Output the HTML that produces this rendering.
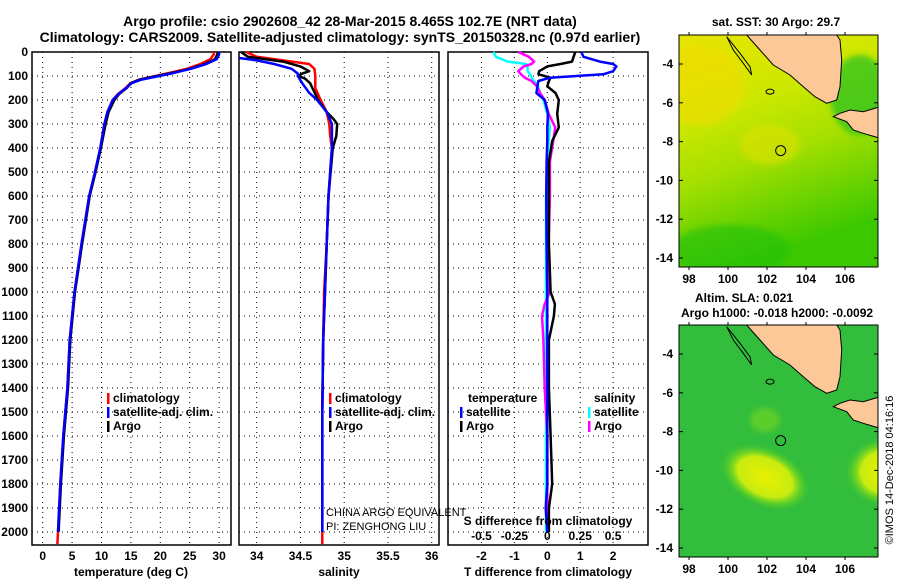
<!DOCTYPE html>
<html><head><meta charset="utf-8"><style>
body{margin:0;background:#fff;}
svg text{font-family:"Liberation Sans",sans-serif;}
.b{font-weight:bold;}
</style></head><body>
<svg id="fig" width="900" height="580" viewBox="0 0 900 580" xmlns="http://www.w3.org/2000/svg">
<defs>
<linearGradient id="sstg" x1="0" y1="0" x2="0.3" y2="1">
<stop offset="0" stop-color="#e8e400"/><stop offset="0.35" stop-color="#cde800"/><stop offset="0.6" stop-color="#a6e000"/><stop offset="1" stop-color="#3cc800"/></linearGradient>
<radialGradient id="blob1"><stop offset="0" stop-color="#e8f000"/><stop offset="0.6" stop-color="#c8ec10"/><stop offset="1" stop-color="#40cc20" stop-opacity="0"/></radialGradient>
<filter id="blur"><feGaussianBlur stdDeviation="3"/></filter>
</defs>
<text class="b" x="350" y="26" font-size="14" text-anchor="middle">Argo profile: csio 2902608_42 28-Mar-2015 8.465S 102.7E (NRT data)</text>
<text class="b" x="340" y="42" font-size="14" text-anchor="middle">Climatology: CARS2009. Satellite-adjusted climatology: synTS_20150328.nc (0.97d earlier)</text>
<g id="panels"></g>
<g id="maps"></g>
<text x="893" y="470" font-size="11" text-anchor="middle" transform="rotate(-90 893 470)">©IMOS 14-Dec-2018 04:16:16</text>
</svg>
<script>
// ---- data ----
const depthTicks=[0,100,200,300,400,500,600,700,800,900,1000,1100,1200,1300,1400,1500,1600,1700,1800,1900,2000];
const tempTicks=[0,5,10,15,20,25,30];
const salTicks=[34,34.5,35,35.5,36];
const salTickLabels=["34","34.5","35","35.5","36"];
const tdTicks=[-2,-1,0,1,2];
const sdTicks=[-0.5,-0.25,0,0.25,0.5];
const sdTickLabels=["-0.5","-0.25","0","0.25","0.5"];

const tArgoDepth=[0,10,30,50,70,80,90,100,115,130,150,175,200,250,300,400,500,600,800,1000,1200,1400,1600,1800,2000];
const tArgo=[29.8,29.7,29.3,27.6,25,23.3,21.5,19.4,16.5,15,14.3,13,12.2,11.2,10.7,9.9,9,8,6.7,5.5,4.7,4.3,3.6,3.1,2.7];
const tClimDepth=[0,10,30,50,70,80,90,100,115,130,150,175,200,250,300,400,500,600,800,1000,1200,1400,1600,1800,2000,2050];
const tClim=[29.1,29.1,28.5,26.8,24.5,22.8,21,19.2,16.4,14.9,14.1,12.8,11.9,11,10.5,9.8,8.9,7.9,6.6,5.4,4.6,4.2,3.5,3.0,2.6,2.5];
const tSatDepth=[0,10,30,50,70,80,90,100,115,130,150,175,200,250,300,400,500,600,800,1000,1200,1400,1600,1800,2000];
const tSat=[30,30,29.6,27.8,25.2,23.5,21.8,19.8,16.8,15.1,14.2,12.9,11.9,11,10.5,9.8,8.9,7.9,6.6,5.4,4.6,4.2,3.5,3.0,2.6];

const sArgoDepth=[0,20,40,60,80,90,100,110,130,160,200,250,280,300,350,400,600,800,1000,1200,1500,2000];
const sArgo=[33.82,33.9,34.3,34.5,34.6,34.52,34.47,34.55,34.61,34.65,34.7,34.8,34.88,34.92,34.91,34.87,34.82,34.8,34.78,34.76,34.75,34.75];
const sClimDepth=[0,20,35,50,70,100,150,200,250,300,350,400,600,800,1000,1200,1500,2000,2050];
const sClim=[33.88,34.0,34.3,34.6,34.66,34.67,34.67,34.73,34.8,34.83,34.84,34.86,34.82,34.8,34.77,34.76,34.75,34.75,34.75];
const sSatDepth=[25,35,50,70,90,100,130,170,200,250,300,400,600,800,1000,1200,1500,2000];
const sSat=[33.8,34.0,34.2,34.4,34.47,34.47,34.52,34.6,34.69,34.8,34.86,34.86,34.82,34.8,34.78,34.76,34.75,34.75];

const dDepth=[0,20,40,50,60,80,93,107,121,143,171,200,257,314,371,457,600,800,1000,1050,1100,1200,1400,1600,1800,1900,2000];
const tDiffSat=[1.03,1.1,1.6,2.0,2.1,2.0,1.7,0.08,-0.27,-0.3,-0.33,-0.08,0.02,0.0,0.0,-0.02,-0.03,-0.02,0,0,0,0,0,0,0,-0.05,0];
const tDiffArgo=[0.85,0.8,0.75,0.4,0.0,-0.25,-0.27,0.1,0.05,0,0.25,0.35,0.3,0.35,0.15,0.05,0.05,0.05,0.1,0.23,0.2,0.05,0.05,0.1,0.15,0.05,0.05];
const sDiffSat=[-0.41,-0.39,-0.3,-0.16,-0.15,-0.15,-0.13,-0.12,-0.1,-0.07,-0.055,-0.03,0,0.02,0.01,0.0,-0.01,-0.01,-0.01,-0.01,-0.01,-0.01,-0.01,-0.01,-0.01,-0.01,-0.01];
const sDiffArgo=[-0.22,-0.14,-0.1,-0.12,-0.18,-0.22,-0.2,-0.17,-0.12,-0.08,-0.055,-0.02,0.01,0.06,0.045,0.02,0.02,0.01,0.02,-0.02,-0.04,-0.03,-0.02,0.0,0.0,0.0,0.0];

const mapLatTicks=[-4,-6,-8,-10,-12,-14];
const mapLonTicks=[98,100,102,104,106];
const argoLon=102.7, argoLat=-8.465;

// ---- helpers ----
const NS="http://www.w3.org/2000/svg";
const P=document.getElementById('panels');
function mk(tag,at,parent){const e=document.createElementNS(NS,tag);for(const k in at)e.setAttribute(k,at[k]);(parent||P).appendChild(e);return e;}
const Y0=52,Y1=545;
const yD=d=>Y0+d*0.24;
const xT=v=>42.7+v*5.88;
const xS=v=>256.7+(v-34)*87.5;
const xTD=v=>547.3+v*32.9;
const xSD=v=>547.3+v*131.6;

function frame(x0,x1,name,gridX){
  const g=mk('g',{});
  
  
  depthTicks.forEach(d=>{const l=mk('line',{x1:x0,x2:x1,y1:yD(d),y2:yD(d),stroke:'#000','stroke-width':1,'stroke-dasharray':'1 4'},g);
    });
  gridX.forEach(x=>{const l=mk('line',{x1:x,x2:x,y1:Y0,y2:Y1,stroke:'#000','stroke-width':1,'stroke-dasharray':'1 4'},g);
    });
  const r=mk('rect',{x:x0,y:Y0,width:x1-x0,height:Y1-Y0,fill:'none',stroke:'#000','stroke-width':1.5},g);
  
  return g;
}
function line(xs,ds,fx,color,name,w){
  const pts=xs.map((v,i)=>fx(v).toFixed(1)+','+yD(ds[i]).toFixed(1)).join(' ');
  const p=mk('polyline',{points:pts,fill:'none',stroke:color,'stroke-width':w||2.5,'stroke-linejoin':'round'});
  
}
function txt(x,y,s,opt,name){
  const t=mk('text',Object.assign({x:x,y:y,'font-size':12,'font-weight':'bold'},opt||{}));
  t.textContent=s;return t;
}
function legend(x,y,color,label,name){
  const r=mk('rect',{x:x,y:y-9,width:2.5,height:11,fill:color});
  
  txt(x+6,y,label,{},name);
}

// ---- panel 1: temperature ----
frame(32,231,'temperature-panel',tempTicks.map(xT));
depthTicks.forEach(d=>txt(28,yD(d)+4,String(d),{'text-anchor':'end'},'depth-tick-label'));
tempTicks.forEach(v=>txt(xT(v),560,String(v),{'text-anchor':'middle'},'temperature-tick-label'));
txt(131,576,'temperature (deg C)',{'text-anchor':'middle'},'temperature-axis-title');
line(tClim,tClimDepth,xT,'#f00','temp-climatology-line');
line(tArgo,tArgoDepth,xT,'#000','temp-argo-line');
line(tSat,tSatDepth,xT,'#00f','temp-satellite-line');
legend(107,402,'#f00','climatology','legend-climatology');
legend(107,416,'#00f','satellite-adj. clim.','legend-satellite');
legend(107,430,'#000','Argo','legend-argo');

// ---- panel 2: salinity ----
frame(239,439,'salinity-panel',salTicks.map(xS));
salTicks.forEach((v,i)=>txt(xS(v),560,salTickLabels[i],{'text-anchor':'middle'},'salinity-tick-label'));
txt(339,576,'salinity',{'text-anchor':'middle'},'salinity-axis-title');
line(sClim,sClimDepth,xS,'#f00','sal-climatology-line');
line(sArgo,sArgoDepth,xS,'#000','sal-argo-line');
line(sSat,sSatDepth,xS,'#00f','sal-satellite-line');
legend(329,402,'#f00','climatology','legend-climatology-sal');
legend(329,416,'#00f','satellite-adj. clim.','legend-satellite-sal');
legend(329,430,'#000','Argo','legend-argo-sal');
txt(326,516,'CHINA ARGO EQUIVALENT',{'font-weight':'normal','font-size':11},'float-owner-text');
txt(326,530,'PI: ZENGHONG LIU',{'font-weight':'normal','font-size':11},'pi-text');

// ---- panel 3: differences ----
frame(448,648,'difference-panel',tdTicks.map(xTD));
line(sDiffSat,dDepth,xSD,'#0ff','sal-diff-satellite-line');
line(sDiffArgo,dDepth,xSD,'#f0f','sal-diff-argo-line');
line(tDiffArgo,dDepth,xTD,'#000','temp-diff-argo-line');
line(tDiffSat,dDepth,xTD,'#00f','temp-diff-satellite-line');
tdTicks.forEach(v=>txt(xTD(v),560,String(v),{'text-anchor':'middle'},'tdiff-tick-label'));
txt(548,576,'T difference from climatology',{'text-anchor':'middle'},'tdiff-axis-title');
txt(548,525,'S difference from climatology',{'text-anchor':'middle'},'sdiff-axis-title');
sdTicks.forEach((v,i)=>txt(xSD(v),540,sdTickLabels[i],{'text-anchor':'middle'},'sdiff-tick-label'));
txt(468,402,'temperature',{},'legend-temperature-heading');
legend(460,416,'#00f','satellite','legend-tdiff-satellite');
legend(460,430,'#000','Argo','legend-tdiff-argo');
txt(594,402,'salinity',{},'legend-salinity-heading');
legend(588,416,'#0ff','satellite','legend-sdiff-satellite');
legend(588,430,'#f0f','Argo','legend-sdiff-argo');

// ---- maps ----
const M=document.getElementById('maps');
const MX0=679,MX1=878;
const lonX=l=>689+(l-98)*19.5;
function drawMap(top,bottom,kind,title1,title2){
  const g=mk('g',{},M);
  
  const latY=l=>top+29+(-4-l)*19.4;
  const bg=mk('rect',{x:MX0,y:top,width:MX1-MX0,height:bottom-top,fill:kind==='sst'?'url(#sstg)':'#34c034'},g);
  
  const cp=mk('clipPath',{id:'cp'+kind},g);mk('rect',{x:MX0,y:top,width:MX1-MX0,height:bottom-top},cp);
  const cg=mk('g',{'clip-path':'url(#cp'+kind+')'},g);
  if(kind==='sst'){
    mk('ellipse',{cx:700,cy:top+50,rx:45,ry:40,fill:'#f2dc00',opacity:0.6,filter:'url(#blur)'},cg);
    mk('ellipse',{cx:770,cy:top+110,rx:30,ry:20,fill:'#e8e000',opacity:0.5,filter:'url(#blur)'},cg);
    mk('ellipse',{cx:730,cy:top+215,rx:60,ry:25,fill:'#20c010',opacity:0.6,filter:'url(#blur)'},cg);
    mk('ellipse',{cx:860,cy:top+60,rx:30,ry:40,fill:'#20c020',opacity:0.7,filter:'url(#blur)'},cg);
  } else {
    mk('rect',{x:MX0,y:top,width:MX1-MX0,height:bottom-top,fill:'#2fb84a',opacity:0.4},cg);
    mk('ellipse',{cx:765,cy:top+152,rx:48,ry:30,fill:'url(#blob1)',transform:'rotate(25 765 '+(top+152)+')'},cg);
    mk('ellipse',{cx:885,cy:top+147,rx:40,ry:35,fill:'url(#blob1)'},cg);
    mk('ellipse',{cx:765,cy:top+95,rx:15,ry:12,fill:'#7ad820',opacity:0.6,filter:'url(#blur)'},cg);
  }
  const z=(a)=>a.map(p=>(650+p[0]/3).toFixed(1)+','+(top-35+p[1]/3).toFixed(1)).join(' ');
  const sum=mk('polygon',{points:z([[290,105],[330,150],[370,195],[420,225],[460,260],[495,290],[530,310],[560,300],[570,260],[575,180],[570,120],[560,105]]),fill:'#fcc898',stroke:'#000','stroke-width':1},cg);
  
  const jav=mk('polygon',{points:z([[550,350],[590,365],[610,390],[640,400],[690,415],[690,320],[640,335],[600,330],[570,340]]),fill:'#fcc898',stroke:'#000','stroke-width':1},cg);
  
  mk('polygon',{points:z([[230,110],[250,150],[280,190],[305,225],[300,200],[270,160]]),fill:'none',stroke:'#000','stroke-width':1},cg);
  mk('ellipse',{cx:650+360/3,cy:top-35+275/3,rx:4,ry:2.5,fill:'none',stroke:'#000'},cg);
  const c=mk('circle',{cx:lonX(argoLon),cy:latY(argoLat),r:5,fill:'none',stroke:'#000','stroke-width':1},g);
  
  const fr=mk('rect',{x:MX0,y:top,width:MX1-MX0,height:bottom-top,fill:'none',stroke:'#000','stroke-width':1},g);
  
  mapLatTicks.forEach(l=>{
    const y=latY(l);
    mk('line',{x1:MX0,x2:MX0+4,y1:y,y2:y,stroke:'#000'},g);mk('line',{x1:MX1-4,x2:MX1,y1:y,y2:y,stroke:'#000'},g);
    const t=mk('text',{x:673,y:y+4,'font-size':12,'font-weight':'bold','text-anchor':'end'},g);t.textContent=String(l);
    
  });
  mapLonTicks.forEach(l=>{
    const x=lonX(l);
    mk('line',{x1:x,x2:x,y1:top-3,y2:top,stroke:'#000'},g);mk('line',{x1:x,x2:x,y1:bottom,y2:bottom+3,stroke:'#000'},g);
    const t=mk('text',{x:x,y:bottom+16,'font-size':12,'font-weight':'bold','text-anchor':'middle'},g);t.textContent=String(l);
    
  });
  if(title1){const t=mk('text',{x:kind==='sst'?776:744,y:title2?top-23:top-9,'font-size':12,'font-weight':'bold','text-anchor':'middle'},g);t.textContent=title1;
    }
  if(title2){const t=mk('text',{x:777,y:top-8,'font-size':12,'font-weight':'bold','text-anchor':'middle'},g);t.textContent=title2;
    }
}
drawMap(35,267,'sst','sat. SST: 30 Argo: 29.7',null);
drawMap(325,557,'sla','Altim. SLA: 0.021','Argo h1000: -0.018 h2000: -0.0092');
</script>
</body></html>
